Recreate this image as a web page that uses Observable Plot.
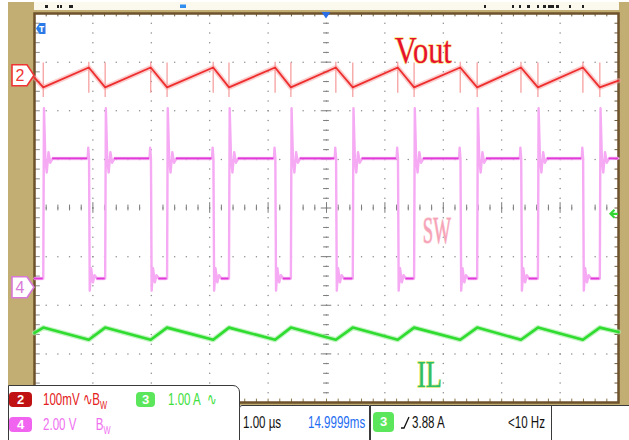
<!DOCTYPE html>
<html><head><meta charset="utf-8">
<script src="https://cdn.jsdelivr.net/npm/d3@7"></script>
<script src="https://cdn.jsdelivr.net/npm/@observablehq/plot@0.6"></script>
<style>
body{margin:0;background:#fff;}
#scope{position:relative;width:629px;height:440px;overflow:hidden;background:#fff;font-family:"Liberation Sans",Arial,sans-serif;}
#bezel{position:absolute;left:8px;top:2px;width:621px;height:403px;background:#c2ad72;}
#strip{position:absolute;left:34px;top:2px;width:585px;height:8px;background:#fbf8ee;}
#chart{position:absolute;left:0;top:0;}
.panel{position:absolute;background:#fff;border:1px solid #3a3a3a;box-sizing:border-box;}
.t{position:absolute;white-space:nowrap;transform-origin:0 50%;transform:scaleX(0.68);font-size:17px;line-height:17px;}
.badge{position:absolute;border-radius:4px;color:#fff;font-size:13px;line-height:15px;text-align:center;font-weight:bold;}
</style></head>
<body>
<div id="scope">
  <div id="bezel"></div>
  <div id="strip"></div>
  <div id="chart"></div>
  <div class="panel" style="left:8px;top:385px;width:232px;height:60px;border-top-right-radius:7px;"></div>
  <div class="badge" style="left:9px;top:392px;width:23px;height:15px;background:#c01212;">2</div>
  <div class="t" style="left:43px;top:391px;color:#e42020;">100mV ∿B<sub style="font-size:11px">W</sub></div>
  <div class="badge" style="left:136px;top:392px;width:19px;height:15px;background:#5ce65c;">3</div>
  <div class="t" style="left:168px;top:391px;color:#3ee03e;">1.00 A &nbsp;∿</div>
  <div class="badge" style="left:9px;top:417px;width:23px;height:15px;background:#f064f0;">4</div>
  <div class="t" style="left:43px;top:416px;color:#f070f0;">2.00 V &nbsp;&nbsp;&nbsp;&nbsp;&nbsp;B<sub style="font-size:11px">W</sub></div>
  <div class="panel" style="left:239px;top:405px;width:131px;height:40px;border-top-left-radius:3px;"></div>
  <div class="t" style="left:243px;top:414px;color:#111;">1.00 µs</div>
  <div class="t" style="left:308px;top:414px;color:#1f6ef2;">14.9999ms</div>
  <div class="panel" style="left:370px;top:405px;width:182px;height:40px;"></div>
  <div class="badge" style="left:373px;top:412px;width:21px;height:20px;line-height:20px;background:#5ce65c;">3</div>
  <svg style="position:absolute;left:400px;top:414px" width="12" height="16"><path d="M1,14 L4,14 L9,3" fill="none" stroke="#111" stroke-width="1.3"/></svg>
  <div class="t" style="left:412px;top:414px;color:#111;">3.88 A</div>
  <div class="t" style="left:508px;top:414px;color:#111;">&lt;10 Hz</div>
  <div class="panel" style="left:551px;top:405px;width:80px;height:40px;"></div>
</div>
<script>
// ---- data (time in µs, vertical position in screen divisions) ----
const gridX = [-4, -3, -2, -1, 0, 1, 2, 3, 4];
const gridY = [-3, -2, -1, 0, 1, 2, 3];

// SW (channel 4) edge times
const swRise = [-4.85, -3.79, -2.73, -1.67, -0.61, 0.45, 1.50, 2.58, 3.62, 4.68];
const swFall = [-4.07, -3.01, -1.94, -0.88, 0.16, 1.22, 2.29, 3.33, 4.39];
const swHigh = 1.02, swLow = -1.45;
// ringing shape around each edge [dt, level]
const swRiseShape = [[0, -1.45], [0.012, 2.05], [0.035, 1.02], [0.06, 0.73], [0.09, 1.15], [0.12, 0.93], [0.16, 1.02]];
const swFallShape = [[-0.02, 1.02], [-0.01, 1.24], [0.004, 1.02], [0.016, -1.70], [0.04, -1.24], [0.07, -1.53], [0.10, -1.38], [0.14, -1.45]];

// Vout (channel 2)
const voutStart = 2.68, voutEnd = 2.62, voutPeak = 2.89, voutMin = 2.48;
const voutRiseSpike = [2.27, 2.98], voutFallSpike = [2.36, 3.0];

// IL (channel 3)
const ilStart = -2.57, ilEnd = -2.55, ilPeak = -2.46, ilMin = -2.71;

// labels
const labelText = ["Vout", "SW", "IL"];
const labelX = [1.17, 1.65, 1.55];
const labelY = [2.99, -0.73, -3.69];
const labelFill = ["#e81030", "#f6a3b8", "#2dbe6c"];
const labelGlow = ["#f5e27a", "#fbd0d8", "#d6e86e"];
const labelLen = [57, 28, 25];

// ---- build tables ----
const events = [...swRise.map(t => ({t, k: "r"})), ...swFall.map(t => ({t, k: "f"}))].sort((a, b) => a.t - b.t);
const sw = [{t: -5, v: swLow}];
for (const e of events) for (const [dt, v] of (e.k === "r" ? swRiseShape : swFallShape)) sw.push({t: e.t + dt, v});
sw.push({t: 5, v: swHigh});
const swLevels = [];
{
  let start = -5, level = swLow;
  for (const e of events) {
    swLevels.push({a: start, b: e.k === "r" ? e.t : e.t - 0.02, v: level});
    if (e.k === "r") { start = e.t + 0.16; level = swHigh; } else { start = e.t + 0.14; level = swLow; }
  }
  swLevels.push({a: start, b: 5, v: level});
}
const vout = [{t: -5, v: voutStart}, ...events.map(e => ({t: e.t, v: e.k === "r" ? voutMin : voutPeak})), {t: 5, v: voutEnd}];
const il = [{t: -5, v: ilStart}, ...events.map(e => ({t: e.t, v: e.k === "r" ? ilPeak : ilMin})), {t: 5, v: ilEnd}];
const labels = labelText.map((s, i) => ({s, x: labelX[i], y: labelY[i], fill: labelFill[i], glow: labelGlow[i]}));

const minorX = d3.range(-24, 25).map(i => i / 5);
const minorY = d3.range(-19, 20).map(i => i / 5);
const isInt = d => Math.abs(d - Math.round(d)) < 1e-9;
const gridDots = [];
for (const gx of gridX) for (const my of minorY) gridDots.push({x: gx, y: my});
for (const gy of gridY) for (const mx of minorX) gridDots.push({x: mx, y: gy});

const plot = Plot.plot({
  width: 629, height: 440,
  marginLeft: 34, marginRight: 11, marginTop: 13, marginBottom: 38,
  x: {domain: [-5, 5], axis: null},
  y: {domain: [-4, 4], axis: null},
  style: {background: "none", overflow: "visible"},
  marks: [
    Plot.frame({fill: "white"}),
    Plot.dot(gridDots, {x: "x", y: "y", r: 0.75, fill: "#8c8c8c"}),
    Plot.ruleX(minorX, {x: d => d, y1: d => isInt(d) ? -0.11 : -0.06, y2: d => isInt(d) ? 0.11 : 0.06, stroke: "#7c7c7c", strokeWidth: 1}),
    Plot.ruleY(minorY, {y: d => d, x1: d => isInt(d) ? -0.09 : -0.05, x2: d => isInt(d) ? 0.09 : 0.05, stroke: "#7c7c7c", strokeWidth: 1}),
    Plot.ruleX(minorX, {x: d => d, y1: 4, y2: 3.93, stroke: "#6d5a3c"}),
    Plot.ruleX(minorX, {x: d => d, y1: -4, y2: -3.93, stroke: "#8a7448"}),
    Plot.ruleY(minorY, {y: d => d, x1: -5, x2: -4.9, stroke: "#8c8c8c"}),
    Plot.ruleY(minorY, {y: d => d, x1: 4.94, x2: 5, stroke: "#6d5a3c"}),
    Plot.frame({stroke: "#6e522c", strokeWidth: 2.5}),
    // IL
    Plot.line(il, {x: "t", y: "v", stroke: "#a6f0a6", strokeWidth: 5, strokeOpacity: 0.7}),
    Plot.line(il, {x: "t", y: "v", stroke: "#30dc30", strokeWidth: 2.6}),
    // Vout
    Plot.ruleX(swRise, {x: d => d, y1: voutRiseSpike[0], y2: voutRiseSpike[1], stroke: "#f6a0a0", strokeWidth: 1.3}),
    Plot.ruleX(swFall, {x: d => d, y1: voutFallSpike[0], y2: voutFallSpike[1], stroke: "#f6a0a0", strokeWidth: 1.3}),
    Plot.line(vout, {x: "t", y: "v", stroke: "#f7a4a4", strokeWidth: 5, strokeOpacity: 0.55}),
    Plot.line(vout, {x: "t", y: "v", stroke: "#ee2e2e", strokeWidth: 1.8}),
    // SW
    Plot.line(sw, {x: "t", y: "v", stroke: "#f5aaf3", strokeWidth: 2.4}),
    Plot.ruleY(swLevels, {y: "v", x1: "a", x2: "b", stroke: "#f0a0ee", strokeWidth: 3.5, strokeOpacity: 0.6}),
    Plot.ruleY(swLevels, {y: "v", x1: "a", x2: "b", stroke: "#e23ad8", strokeWidth: 1.7}),
    // labels
    Plot.text(labels, {x: "x", y: "y", text: "s", fill: "fill", stroke: "glow", strokeWidth: 1.4, paintOrder: "stroke",
      fontFamily: "Liberation Serif, serif", fontSize: 37, textAnchor: "start", lineAnchor: "bottom"})
  ]
});
document.getElementById("chart").appendChild(plot);

// label condensing (picture uses narrow stretched glyphs)
d3.select(plot).selectAll("text").each(function () {
  const i = labelText.indexOf(this.textContent);
  if (i >= 0) { this.setAttribute("textLength", labelLen[i]); this.setAttribute("lengthAdjust", "spacingAndGlyphs"); }
});

// channel / trigger markers through the plot's scales
const ysc = plot.scale("y"), xsc = plot.scale("x");
const Y = d3.scaleLinear(ysc.domain, ysc.range), X = d3.scaleLinear(xsc.domain, xsc.range);
const svg = d3.select(plot);
const g = svg.append("g");
function chMarker(v, color, label) {
  const y = Y(v);
  g.append("path").attr("d", `M12,${y - 10.5}H27L34,${y}L27,${y + 10.5}H12Z`).attr("fill", "#fff").attr("stroke", color).attr("stroke-width", 1.6);
  g.append("text").attr("x", 20).attr("y", y).attr("dy", "0.36em").attr("text-anchor", "middle")
    .attr("font-family", "Liberation Sans Narrow, Liberation Sans, sans-serif").attr("font-size", 16).attr("fill", color).text(label);
}
chMarker(voutStart + 0.04, "#ef3434", "2");
chMarker(-1.64, "#d97ad9", "4");
// T marker
g.append("path").attr("d", "M36,28.5L39.5,23H45.5V34H39.5Z").attr("fill", "#2a7ae8");
g.append("text").attr("x", 41.5).attr("y", 28.5).attr("dy", "0.35em").attr("text-anchor", "middle").attr("font-size", 9).attr("font-weight", "bold").attr("fill", "#fff").text("T");
// trigger position marker
const xc = X(0);
g.append("path").attr("d", `M${xc - 4.5},12H${xc + 4.5}L${xc},18.5Z`).attr("fill", "#2a6ee6");
// trigger level arrow
const ty = Y(-0.13);
g.append("path").attr("d", `M618,${ty}H610.5M614.5,${ty - 4}L610.5,${ty}L614.5,${ty + 4}`).attr("fill", "none").attr("stroke", "#34d634").attr("stroke-width", 2.2);
// memory bar marks
const memBlack = [[45, 3], [57, 2], [60, 2], [69, 4], [484, 2], [512, 2], [519, 2], [527, 3], [537, 2], [543, 3], [548, 6], [556, 3], [569, 2], [582, 2]];
for (const [x, w] of memBlack) g.append("rect").attr("x", x).attr("y", 5).attr("width", w).attr("height", 3).attr("fill", "#222");
g.append("rect").attr("x", 180).attr("y", 4.5).attr("width", 6).attr("height", 3.5).attr("fill", "#2f8ef0");
</script>
</body></html>
